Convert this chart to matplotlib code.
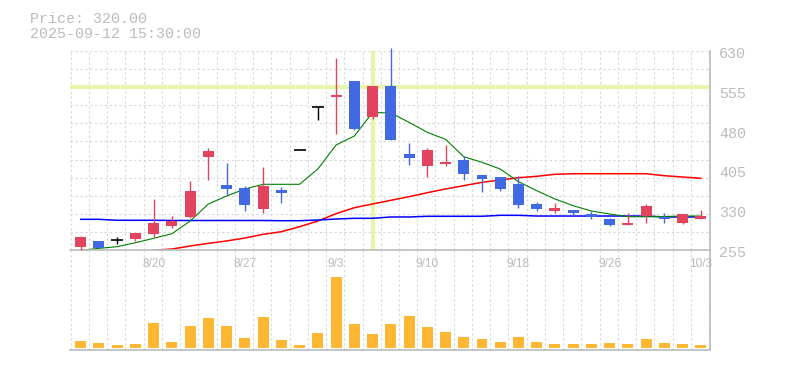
import matplotlib
matplotlib.use('Agg')
import matplotlib.pyplot as plt
import matplotlib.transforms as mtransforms
import numpy as np

# 日足データ (2025/8/14 - 10/3)
dates = ['8/14', '8/15', '8/18', '8/19', '8/20', '8/21', '8/22', '8/25', '8/26', '8/27',
         '8/28', '8/29', '9/1', '9/2', '9/3', '9/4', '9/5', '9/8', '9/9', '9/10',
         '9/11', '9/12', '9/16', '9/17', '9/18', '9/19', '9/22', '9/24', '9/25', '9/26',
         '9/29', '9/30', '10/1', '10/2', '10/3']
opens = [261, 272, 274, 276, 286, 301, 318, 430, 378, 372,
         333, 368, 443, 524, 543, 573, 506, 564, 436, 413,
         417, 425, 397, 393, 380, 342, 329, 331, 323, 314,
         303, 319, 318, 306, 314]
highs = [282, 272, 280, 288, 351, 319, 385, 447, 419, 375,
         412, 374, 443, 524, 616, 573, 563, 635, 457, 447,
         453, 432, 397, 393, 395, 346, 344, 331, 329, 316,
         325, 342, 325, 323, 331]
lows = [256, 259, 267, 272, 280, 297, 316, 387, 359, 329,
        326, 344, 443, 500, 473, 481, 501, 462, 415, 393,
        414, 387, 365, 366, 335, 329, 325, 319, 314, 301,
        302, 306, 306, 304, 314]
closes = [280, 259, 274, 287, 306, 310, 366, 442, 370, 340,
          376, 363, 443, 524, 545, 483, 563, 462, 429, 443,
          421, 398, 389, 370, 340, 333, 335, 326, 318, 303,
          306, 338, 314, 323, 320]
volumes = [70, 50, 30, 40, 250, 60, 220, 300, 220, 100,
           310, 80, 30, 150, 710, 240, 140, 240, 320, 210,
           160, 110, 90, 60, 110, 60, 40, 40, 40, 50,
           40, 90, 50, 40, 30]

# 移動平均線 (チャートから読み取り)
ma_short = [255, 258.7, 261.8, 269.3, 277.5, 286.2, 310, 342, 357, 370.2,
            379, 379, 379, 407.7, 452.8, 469.7, 513.9, 513, 495.5, 476.7,
            463.5, 430.8, 420.3, 407.7, 383.9, 367, 351.4, 338.8, 328.8, 323.2,
            318.1, 318, 318.5, 319.4, 319.4]
ma_mid = [None, None, None, None, 255, 257.4, 263.1, 268.1, 272.5, 278.1,
          285, 289.9, 299.3, 310, 323.8, 335, 342, 348.9, 355.7, 363.2,
          370.2, 376.4, 382.7, 387.1, 391.4, 394, 397.8, 398.9, 398.9, 398.9,
          398.9, 398.9, 395.1, 392.7, 390.3]
ma_long = [313.2, 313.2, 311.4, 311.4, 311.4, 311, 311, 311, 311, 311,
           311, 310.6, 310.6, 311.9, 313.8, 315.1, 315.1, 317.6, 317.6, 318.9,
           318.9, 318.9, 318.9, 320.7, 320.7, 319.4, 319.4, 319.4, 319.4, 319.4,
           319.4, 319.4, 317.6, 317.6, 317.6]

yticks = [630, 555, 480, 405, 330, 255]
cursor_idx = 16
cursor_price = 562

plt.rcParams['font.family'] = ['Liberation Mono', 'DejaVu Sans Mono']

W, H = 785, 370
fig = plt.figure(figsize=(W / 100, H / 100), dpi=100)
fig.patch.set_facecolor('white')

left, right = 70, 710
top_main, bot_main, bot_vol = 50.7, 250.3, 350
ax = fig.add_axes([left / W, 1 - bot_main / H, (right - left) / W, (bot_main - top_main) / H])
axv = fig.add_axes([left / W, 1 - bot_vol / H, (right - left) / W, (bot_vol - bot_main) / H])

n = len(dates)
x = np.arange(n)
xlim = (-0.587, 34.5)
grid_c = '#d9d9d9'
axis_c = '#bbbbbb'
dash = (0, (2.2, 2.2))

for a in (ax, axv):
    a.set_xlim(*xlim)
    a.set_facecolor('none')
    for s in ('left', 'top'):
        a.spines[s].set_visible(False)
    for s in ('right', 'bottom'):
        a.spines[s].set_color(axis_c)
        a.spines[s].set_linewidth(1.2)
    a.set_xticks([])
    a.set_yticks([])
    for gx in np.arange(-1, n) + 0.45:
        a.axvline(gx, color=grid_c, lw=0.8, ls=dash, zorder=0)

ax.set_ylim(255, 630)
for gy in np.linspace(630, 255, 12)[:-1]:
    ax.axhline(gy, color=grid_c, lw=0.8, ls=dash, zorder=0)

# カーソル線
cur_c = '#e6f5aa'
ax.axhline(cursor_price, color=cur_c, lw=3, zorder=1)
ax.axvline(cursor_idx, color=cur_c, lw=3, zorder=1)

# 移動平均
ax.plot(x, [np.nan if v is None else v for v in ma_mid], color='#ff0000', lw=1.1, zorder=2)
ax.plot(x, ma_long, color='#0000ff', lw=1.1, zorder=2)
ax.plot(x, ma_short, color='#008000', lw=0.8, zorder=2)

# ローソク足
up_c, dn_c = '#e2445f', '#4169e1'
for i in range(n):
    o, h, l, c = opens[i], highs[i], lows[i], closes[i]
    if o == c:
        col = 'black'
        ax.vlines(i, l, h, color=col, lw=1.0, zorder=3, clip_on=False)
        ax.hlines(c, i - 0.33, i + 0.33, color=col, lw=1.2, zorder=3)
        continue
    col = up_c if c > o else dn_c
    ax.vlines(i, l, h, color=col, lw=1.0, zorder=3, clip_on=False)
    ax.bar(i, max(abs(c - o), 3), bottom=min(o, c), width=0.6, color=col, zorder=4)

# 価格軸ラベル
lab_off = mtransforms.ScaledTranslation(9 / 100, -7 / 100, fig.dpi_scale_trans)
for t in yticks:
    ax.text(1.0, t, str(t), transform=ax.get_yaxis_transform() + lab_off,
            ha='left', va='baseline', fontsize=10.8, color=axis_c)

# 出来高
axv.set_ylim(-20, 977)
axv.bar(x, volumes, width=0.6, color='#fdb733', zorder=2)

# 日付ラベル
date_tr = mtransforms.blended_transform_factory(axv.transData, axv.transAxes)
for i in range(4, n, 5):
    axv.text(i, (bot_vol - 266.7) / (bot_vol - bot_main), dates[i], transform=date_tr,
             ha='center', va='baseline', fontsize=8.6, color=axis_c,
             family='Liberation Sans')

# 左上の情報
fig.text(30 / W, 1 - 23.3 / H, 'Price: 320.00', fontsize=10.8, color=axis_c, va='baseline')
fig.text(30 / W, 1 - 37.7 / H, '2025-09-12 15:30:00', fontsize=10.8, color=axis_c, va='baseline')

fig.savefig('out.png', dpi=100, facecolor='white')
